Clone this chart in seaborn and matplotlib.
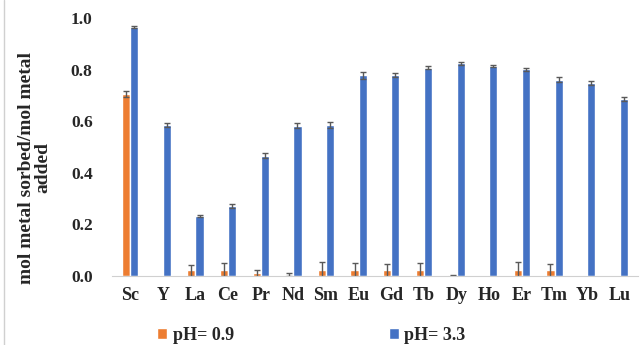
import numpy as np
import pandas as pd
import matplotlib
matplotlib.use("Agg")
import matplotlib.pyplot as plt
import seaborn as sns

# data
elements = ['Sc', 'Y', 'La', 'Ce', 'Pr', 'Nd', 'Sm', 'Eu', 'Gd', 'Tb', 'Dy', 'Ho', 'Er', 'Tm', 'Yb', 'Lu']
ph09 = [0.705, 0.0, 0.022, 0.025, 0.010, 0.005, 0.025, 0.025, 0.022, 0.025, 0.002, 0.0, 0.025, 0.022, 0.0, 0.0]
ph09_err = [0.010, 0.0, 0.022, 0.025, 0.012, 0.006, 0.028, 0.025, 0.024, 0.027, 0.002, 0.0, 0.030, 0.024, 0.0, 0.0]
ph33 = [0.965, 0.585, 0.233, 0.272, 0.466, 0.582, 0.586, 0.777, 0.778, 0.807, 0.825, 0.813, 0.801, 0.760, 0.747, 0.686]
ph33_err = [0.004, 0.007, 0.003, 0.007, 0.010, 0.010, 0.012, 0.012, 0.008, 0.006, 0.006, 0.004, 0.006, 0.010, 0.008, 0.007]
series = ['pH= 0.9', 'pH= 3.3']
colors = ['#ED7D31', '#4472C4']

df = pd.DataFrame({
    'element': elements * 2,
    'value': ph09 + ph33,
    'err': ph09_err + ph33_err,
    'series': [series[0]] * len(elements) + [series[1]] * len(elements),
})

sns.set_style('white')
plt.rcParams['font.family'] = ['Liberation Serif', 'DejaVu Serif']
plt.rcParams['font.weight'] = 'bold'

fig = plt.figure(figsize=(6.41, 3.45), dpi=100)
ax = fig.add_axes([0.175, 0.2, 0.82, 0.748])

sns.barplot(data=df, x='element', y='value', hue='series', palette=colors,
            width=0.5, errorbar=None, ax=ax, saturation=1)

# error bars on the bar centres (skip the empty ones)
for cont, s in zip(ax.containers, series):
    sub = df[df.series == s]
    xs = np.array([p.get_x() + p.get_width() / 2 for p in cont.patches])
    keep = sub['err'].values > 0
    ax.errorbar(xs[keep], sub['value'].values[keep], yerr=sub['err'].values[keep],
                fmt='none', ecolor='#595959', elinewidth=1, capsize=2.5, capthick=1)

ax.set_ylim(0, 1.0)
ax.set_xlim(-0.55, len(elements) - 0.45)
ax.set_yticks(np.arange(0, 1.01, 0.2))
ax.set_yticklabels([f'{v:.1f}' for v in np.arange(0, 1.01, 0.2)], fontsize=12.5, fontweight='bold')
ax.tick_params(axis='x', labelsize=13, length=0, pad=8)
ax.tick_params(axis='y', length=0, pad=14)
for lab in ax.get_xticklabels():
    lab.set_fontweight('bold')
ax.set_xlabel('')
ax.set_ylabel('mol metal sorbed/mol metal\nadded', fontsize=14, fontweight='bold',
              linespacing=1.0)
ax.yaxis.set_label_coords(-0.115, 0.42)

for side in ['left', 'top', 'right']:
    ax.spines[side].set_visible(False)
ax.spines['bottom'].set_color('#d0d0d0')

leg = ax.legend(loc='upper left', bbox_to_anchor=(0.055, -0.135), ncol=2, frameon=False,
                fontsize=13, handlelength=0.55, handleheight=0.55, handletextpad=0.3,
                columnspacing=8.6)
for t in leg.get_texts():
    t.set_fontweight('bold')

# thin frame line on the left edge of the picture
fig.add_artist(plt.Line2D([0.006, 0.006], [0, 1], color='#d0d0d0', lw=1, transform=fig.transFigure))

fig.savefig('out.png', dpi=100)
